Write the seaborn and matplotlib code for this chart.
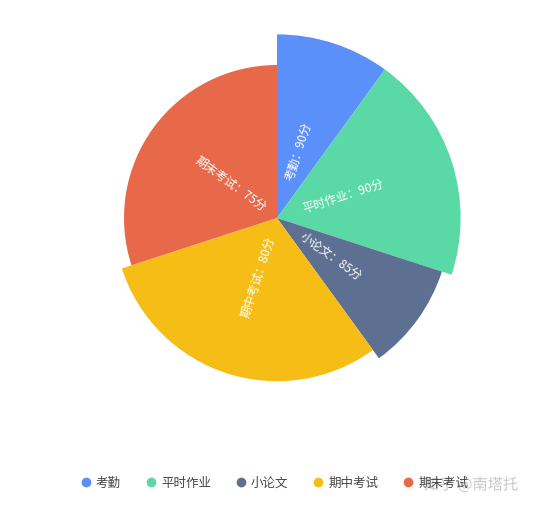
import matplotlib
matplotlib.use('Agg')
import matplotlib.pyplot as plt
import matplotlib.patheffects as pe
from matplotlib.lines import Line2D
import numpy as np
import seaborn as sns

# Data: score of each part and its weight in the final grade
parts = ['考勤', '平时作业', '小论文', '期中考试', '期末考试']
scores = [90, 90, 85, 80, 75]
weights = [10, 20, 10, 30, 30]
colors = ['#5B8FF9', '#5AD8A6', '#5D7092', '#F6BD16', '#E8684A']

sns.set_theme(style='white')
plt.rcParams['font.family'] = ['Noto Sans CJK SC', 'DejaVu Sans']
palette = sns.color_palette(colors)

W, H = 540, 507
fig = plt.figure(figsize=(W / 100, H / 100), dpi=100)

# polar axes centred on the pie, 100 score units = 204 px
cx, cy, R = 277, 218, 204
ax = fig.add_axes([(cx - R) / W, (H - cy - R) / H, 2 * R / W, 2 * R / H],
                  projection='polar')
ax.set_theta_zero_location('N')
ax.set_theta_direction(-1)
ax.set_ylim(0, 100)
ax.axis('off')

w = np.array(weights) / sum(weights) * 2 * np.pi
starts = np.concatenate([[0], np.cumsum(w)[:-1]])
mids = starts + w / 2
ax.bar(mids, scores, width=w, color=palette, edgecolor='none', align='center')

for name, s, m in zip(parts, scores, mids):
    deg = 90 - np.degrees(m)
    rot = (deg + 90) % 180 - 90
    ax.text(m, s * 0.38, f'{name}：{s}分', rotation=rot, rotation_mode='anchor',
            ha='center', va='center', color='white', fontsize=8.6)

handles = [Line2D([], [], marker='o', linestyle='none', markersize=7,
                  markerfacecolor=c, markeredgecolor='none') for c in palette]
fig.legend(handles, parts, loc='center', bbox_to_anchor=(0.5 + 4 / W, 1 - 483 / H),
           ncol=5, frameon=False, fontsize=9, labelcolor='#444444',
           handletextpad=0.3, columnspacing=1.9, handlelength=1.0)

# watermark of the source site
fig.text(424 / W, 1 - 485 / H, '知乎 @南塔托', fontsize=11, color='#c8c8c8',
         va='center', ha='left',
         path_effects=[pe.withStroke(linewidth=2, foreground='white')])

fig.savefig('out.png', dpi=100, facecolor='white')
